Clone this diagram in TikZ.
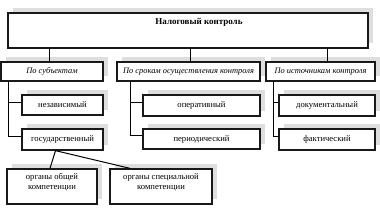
\documentclass[tikz,border=0pt]{standalone}
\usepackage{fontspec}
\setmainfont{Liberation Serif}
\usetikzlibrary{shadows}
\begin{document}
\begin{tikzpicture}[x=1pt,y=-1pt,
  box/.style={draw=black!90, line width=1.3pt, fill=white, inner sep=0pt,
    font=\fontsize{8.6}{10}\selectfont,
    drop shadow={shadow xshift=4.5pt, shadow yshift=4.5pt, fill=black!13, opacity=1}},
  itbox/.style={box, font=\fontsize{8.4}{10}\selectfont\itshape},
  lbl/.style={inner sep=0pt, align=center, font=\fontsize{8.6}{10.5}\selectfont},
  conn/.style={draw=black, line width=1pt}]
\useasboundingbox (0,0) rectangle (380,224);
% top
\node[box, minimum width=360pt, minimum height=35pt] (top) at (188,30.5) {};
\node[inner sep=0pt, font=\fontsize{9}{10}\selectfont\bfseries] (toptext) at (199,22) {Налоговый контроль};
% level 2
\node[itbox, minimum width=102pt, minimum height=19pt] (s1) at (52,71.5) {По субъектам};
\node[itbox, minimum width=143pt, minimum height=19pt] (s2) at (188.5,71.5) {По срокам осуществления контроля};
\node[itbox, minimum width=109pt, minimum height=19pt] (s3) at (320.5,71.5) {По источникам контроля};
% level 3
\node[box, minimum width=81pt, minimum height=20pt] (a1) at (62.5,105) {независимый};
\node[box, minimum width=81pt, minimum height=21pt] (a2) at (62.5,139.5) {государственный};
\node[box, minimum width=117pt, minimum height=21pt] (b1) at (201.5,105.5) {оперативный};
\node[box, minimum width=117pt, minimum height=20pt] (b2) at (201.5,139) {периодический};
\node[box, minimum width=96pt, minimum height=21pt] (c1) at (327,105.5) {документальный};
\node[box, minimum width=96pt, minimum height=21pt] (c2) at (327,139.5) {фактический};
% level 4
\node[box, minimum width=90pt, minimum height=35pt] (d1) at (52,186.5) {};
\node[lbl] (d1t) at (52,182.5) {органы общей\\компетенции};
\node[box, minimum width=102pt, minimum height=35pt] (d2) at (161,186.5) {};
\node[lbl] (d2t) at (161,182.5) {органы специальной\\компетенции};
% connector x positions
\coordinate (x1) at (49,0);
\coordinate (x2) at (190,0);
\coordinate (x3) at (327,0);
\coordinate (v1) at (8,0);
\coordinate (v2) at (130,0);
\coordinate (v3) at (273,0);
% top to level 2
\draw[conn] (top.south -| x1) -- (s1.north -| x1);
\draw[conn] (top.south -| x2) -- (s2.north -| x2);
\draw[conn] (top.south -| x3) -- (s3.north -| x3);
% level 2 to level 3
\draw[conn] (s1.south -| v1) |- ([yshift=2.5pt]a2.west);
\draw[conn] ([yshift=2pt]a1.west -| v1) -- ([yshift=2pt]a1.west);
\draw[conn] (s2.south -| v2) |- ([yshift=3pt]b2.west);
\draw[conn] ([yshift=2.5pt]b1.west -| v2) -- ([yshift=2.5pt]b1.west);
\draw[conn] (s3.south -| v3) |- ([yshift=3pt]c2.west);
\draw[conn] ([yshift=2.5pt]c1.west -| v3) -- ([yshift=2.5pt]c1.west);
% level 3 to level 4
\coordinate (g) at ([xshift=-7pt]a2.south);
\draw[conn] (g) -- ([xshift=-2pt]d1.north);
\draw[conn] (g) -- ([xshift=-31pt]d2.north);
\end{tikzpicture}
\end{document}
